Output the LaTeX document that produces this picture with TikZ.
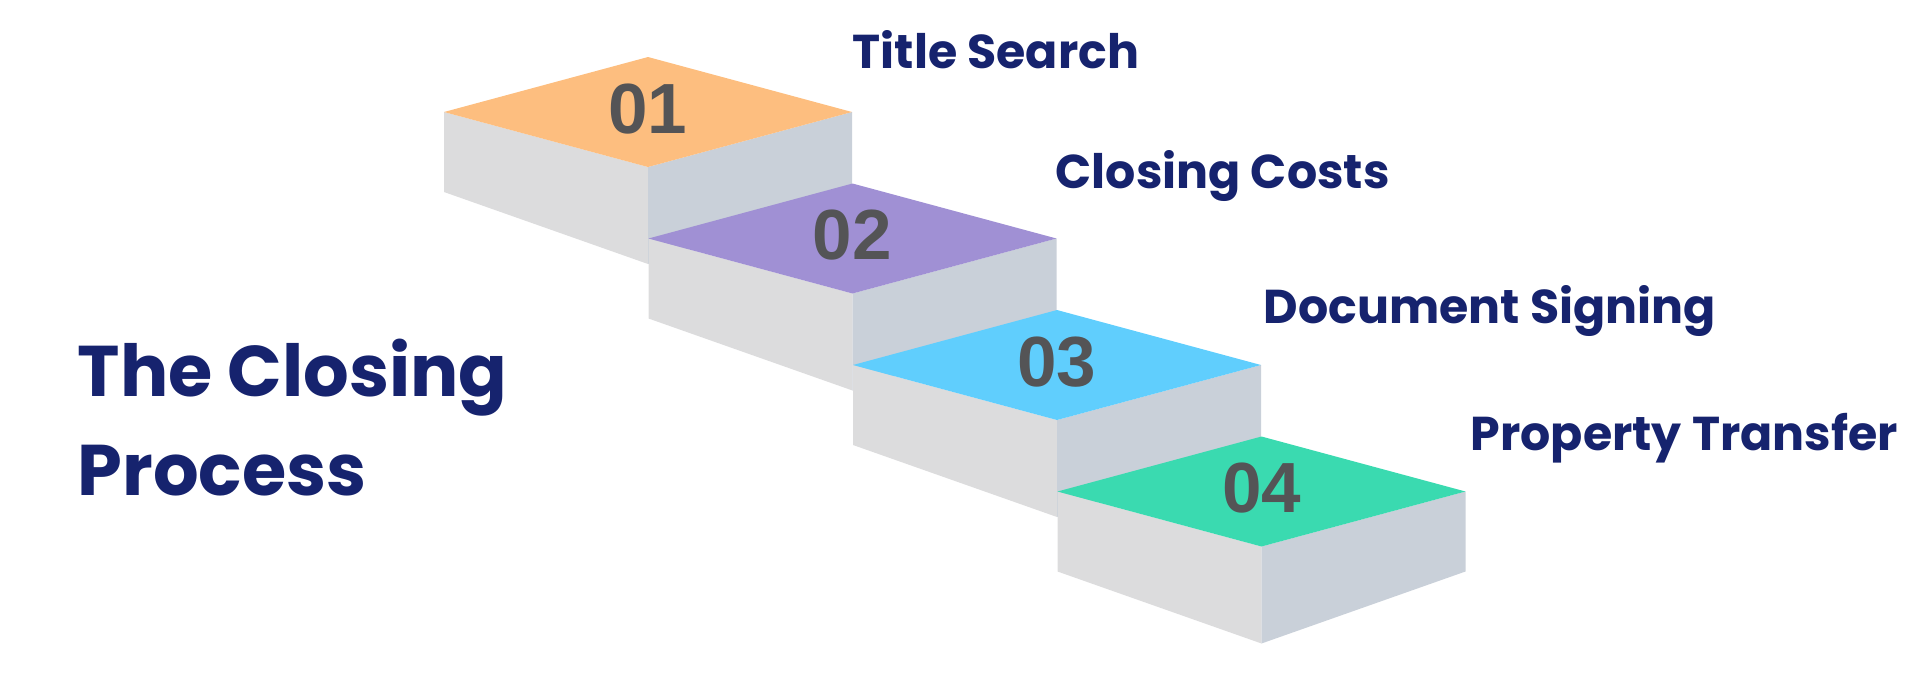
\documentclass[tikz,border=0pt]{standalone}
\usepackage{fontspec}
\newfontfamily\labelfont{Poppins}
\newfontfamily\numfont{Liberation Sans}
\definecolor{navytext}{RGB}{22,35,110}
\definecolor{numgray}{RGB}{84,84,86}
\definecolor{leftgray}{RGB}{220,220,221}
\definecolor{rightgray}{RGB}{201,208,217}
\definecolor{steporange}{RGB}{253,190,127}
\definecolor{steppurple}{RGB}{160,144,212}
\definecolor{stepcyan}{RGB}{96,206,253}
\definecolor{stepgreen}{RGB}{58,218,176}
\usetikzlibrary{positioning}

\tikzset{
    numlabel/.style={inner sep=0pt, text=numgray, font=\numfont\bfseries\fontsize{20.2pt}{24pt}\selectfont},
    steplabel/.style={inner sep=0pt, anchor=base west, text=navytext, font=\labelfont\bfseries\fontsize{13.5pt}{16pt}\selectfont},
    titlelabel/.style={inner sep=0pt, anchor=base west, align=left, text=navytext, font=\labelfont\bfseries\fontsize{20.4pt}{27.9pt}\selectfont}
}

\begin{document}
\begin{tikzpicture}[x=0.01cm, y=-0.01cm]
    \useasboundingbox (0,0) rectangle (1920,675);
    % the four blocks, back to front
    \foreach \i/\topcol/\num in {
        0/steporange/01,
        1/steppurple/02,
        2/stepcyan/03,
        3/stepgreen/04
    } {
        \begin{scope}[shift={(\i*204.5,\i*126.5)}]
            \fill[leftgray] (444,112) -- (648,167) -- (648,264) -- (444,192) -- cycle;
            \fill[rightgray] (648,167) -- (852,112) -- (852,192) -- (648,264) -- cycle;
            \fill[\topcol] (444,112) -- (648,57) -- (852,112) -- (648,167) -- cycle;
            \node[numlabel] (num\i) at (648,109) {\num};
        \end{scope}
    }
    \foreach \i/\x/\y/\txt in {
        0/852/68/Title Search,
        1/1055/188/Closing Costs,
        2/1263/323/Document Signing,
        3/1470/450/Property Transfer
    } {
        \node[steplabel] (lbl\i) at (\x,\y) {\txt};
    }
    \node[titlelabel] (title) at (77,495) {The Closing\\Process};
\end{tikzpicture}
\end{document}
